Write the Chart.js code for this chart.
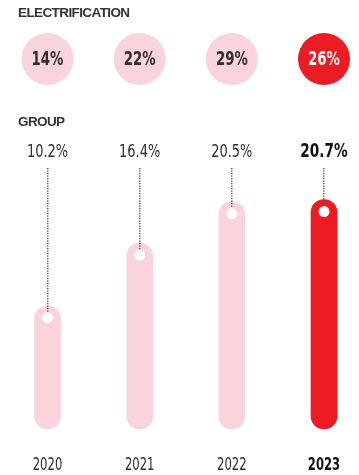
<!DOCTYPE html>
<html>
<head>
<meta charset="utf-8">
<script src="https://cdn.jsdelivr.net/npm/chart.js@4.4.1/dist/chart.umd.min.js"></script>
<style>
  html, body { margin: 0; padding: 0; background: #fff; }
  #wrap { position: relative; width: 359px; height: 475px; }
  canvas { position: absolute; left: 0; top: 0; }
  .head { position: absolute; left: 18px; font-family: "Liberation Sans", Arial, sans-serif; font-weight: bold; font-size: 13.5px; letter-spacing: -0.6px; color: #333; }
</style>
</head>
<body>
<div id="wrap">
  <canvas id="c" width="359" height="475"></canvas>
  <div class="head" style="top:5px">ELECTRIFICATION</div>
  <div class="head" style="top:114px">GROUP</div>
</div>
<script>
const categories = ["2020", "2021", "2022", "2023"];
const groupValues = [10.2, 16.4, 20.5, 20.7];
const groupLabels = ["10.2%", "16.4%", "20.5%", "20.7%"];
const electrificationValues = [14, 22, 29, 26];
const electrificationLabels = ["14%", "22%", "29%", "26%"];
const highlightIndex = 3;

const PINK = "#f9d4da";
const RED = "#ec1c24";
const DARK = "#2e2e2e";
const COND = '"DejaVu Sans Condensed", "DejaVu Sans", sans-serif';

function narrowText(ctx, text, x, y, font, color, sx) {
  ctx.save();
  ctx.translate(x, y);
  ctx.scale(sx, 1);
  ctx.font = font;
  ctx.fillStyle = color;
  ctx.textAlign = "center";
  ctx.textBaseline = "middle";
  ctx.fillText(text, 0, 0);
  ctx.restore();
}

const decor = {
  id: "decor",
  afterDatasetsDraw(chart) {
    const ctx = chart.ctx;
    const meta = chart.getDatasetMeta(0);
    const xs = chart.scales.x;
    const area = chart.chartArea;
    ctx.save();
    categories.forEach((c, i) => {
      const x = xs.getPixelForValue(i);
      const hi = i === highlightIndex;
      // electrification circles
      ctx.beginPath();
      ctx.arc(x, 59, 26, 0, Math.PI * 2);
      ctx.fillStyle = hi ? RED : PINK;
      ctx.fill();
      narrowText(ctx, electrificationLabels[i], x, 60, "bold 19px " + COND, hi ? "#fff" : DARK, 0.78);
      // group value label
      narrowText(ctx, groupLabels[i], x, 152, (hi ? "bold 19px " : "18px ") + COND, hi ? "#111" : DARK, 0.8);
      // year label
      narrowText(ctx, categories[i], x, area.bottom + 37, (hi ? "bold 17px " : "17px ") + COND, hi ? "#111" : DARK, 0.76);
      // dot at bar top
      const bar = meta.data[i];
      const dotY = bar.y + 12;
      // dotted line
      ctx.fillStyle = "#555";
      for (let y = 168; y < dotY - 6; y += 2.5) {
        ctx.fillRect(Math.round(x) - 1, y, 1.5, 1.2);
      }
      ctx.beginPath();
      ctx.arc(x, dotY, 5.5, 0, Math.PI * 2);
      ctx.fillStyle = "#fff";
      ctx.fill();
    });
    ctx.restore();
  }
};

new Chart(document.getElementById("c"), {
  type: "bar",
  data: {
    labels: categories,
    datasets: [{
      data: groupValues,
      base: -2,
      backgroundColor: categories.map((c, i) => i === highlightIndex ? RED : PINK),
      barThickness: 26,
      borderRadius: 13,
      borderSkipped: false,
      clip: false
    }]
  },
  options: {
    responsive: false,
    animation: false,
    events: [],
    layout: { padding: { left: 47.5, right: 35, top: 140, bottom: 0 } },
    plugins: { legend: { display: false }, tooltip: { enabled: false } },
    scales: {
      x: {
        offset: false,
        grid: { display: false, drawTicks: false },
        border: { display: false },
        ticks: { display: false },
        afterFit: (scale) => { scale.height = 46; scale.paddingLeft = 0; scale.paddingRight = 0; }
      },
      y: {
        display: false,
        min: -2,
        max: 26.6
      }
    }
  },
  plugins: [decor]
});
</script>
</body>
</html>
